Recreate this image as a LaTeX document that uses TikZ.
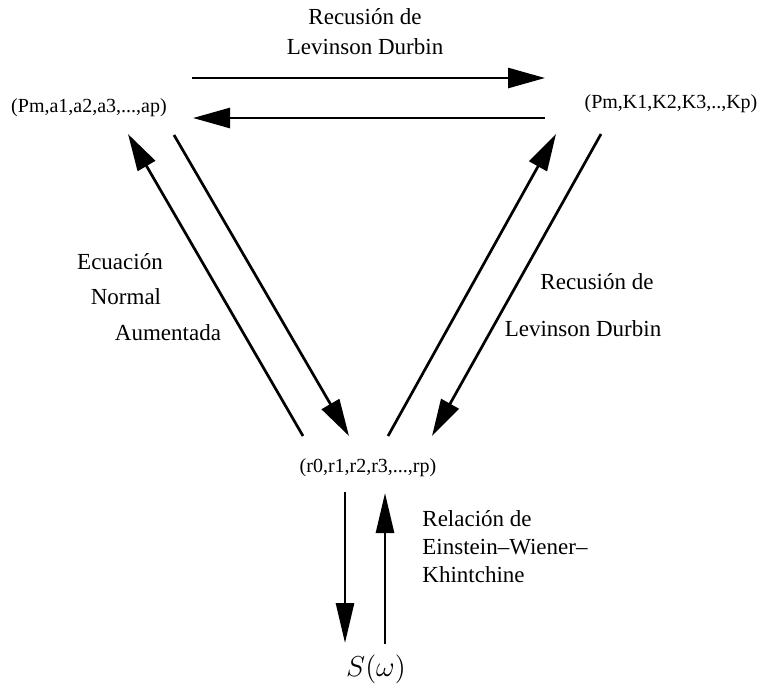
\documentclass[tikz,border=0pt]{standalone}
\usepackage[no-math]{fontspec}
\setmainfont{Liberation Serif}
\usepackage{tikz}
\usetikzlibrary{arrows.meta, calc}

\tikzset{
    flecha/.style={line width=1.35pt, -{Triangle[length=18.5pt, width=10pt]}},
    flechav/.style={line width=1.35pt, -{Triangle[length=20pt, width=9pt]}},
    vector/.style={font=\fontsize{10}{12}\selectfont, inner sep=0pt},
    etiqueta/.style={font=\fontsize{11.5}{14}\selectfont, inner sep=0pt}
}

\begin{document}
\begin{tikzpicture}[x=0.5pt, y=-0.5pt]
    \useasboundingbox (0,0) rectangle (758,687);

    % parameter sets
    \node[vector] (pa) at (89,108) {(Pm,a1,a2,a3,...,ap)};
    \node[vector] (pk) at (671,104) {(Pm,K1,K2,K3,..,Kp)};
    \node[vector] (rr) at (368,468) {(r0,r1,r2,r3,...,rp)};
    \node[inner sep=0pt, font=\fontsize{15}{18}\selectfont] (sw) at (376,669) {$S(\omega)$};

    % top pair
    \draw[flecha] ($(pa)+(103,-30)$) -- ($(pk)+(-126,-26)$);
    \draw[flecha] ($(pk)+(-126,14)$) -- ($(pa)+(104,10)$);
    \node[etiqueta, align=center, font=\fontsize{11.5}{15}\selectfont] (lbltop) at (365,32) {Recusión de\\Levinson Durbin};

    % left pair
    \draw[flecha] ($(rr)+(-65,-32)$) -- ($(pa)+(39,26)$);
    \draw[flecha] ($(pa)+(85,27)$) -- ($(rr)+(-19,-32)$);
    \node[etiqueta] (lbleq1) at (120,262) {Ecuación};
    \node[etiqueta] (lbleq2) at (126,297) {Normal};
    \node[etiqueta] (lbleq3) at (168,333) {Aumentada};

    % right pair
    \draw[flecha] ($(rr)+(20,-32)$) -- ($(pk)+(-115,30)$);
    \draw[flecha] ($(pk)+(-70,30)$) -- ($(rr)+(64,-32)$);
    \node[etiqueta] (lblld1) at (597,282) {Recusión de};
    \node[etiqueta] (lblld2) at (583,329) {Levinson Durbin};

    % spectrum
    \draw[flechav] ($(rr)+(-23,24)$) -- ($(sw)+(-31,-26)$);
    \draw[flechav] ($(sw)+(9,-25)$) -- ($(rr)+(17,25)$);
    \node[etiqueta, align=left, anchor=west] (lblewk) at (422,547) {Relación de\\Einstein--Wiener--\\Khintchine};
\end{tikzpicture}
\end{document}
